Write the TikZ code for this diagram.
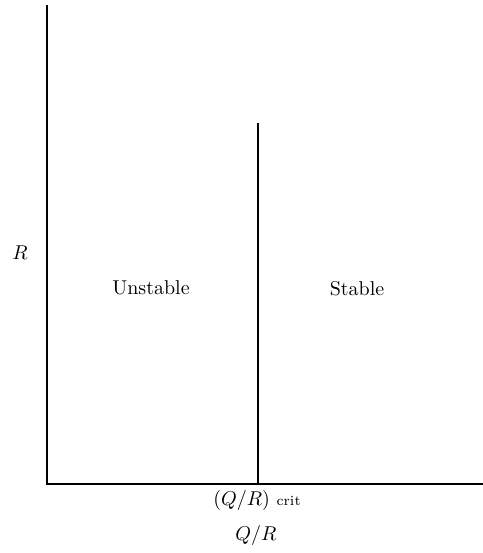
\documentclass[tikz,border=0pt]{standalone}
\begin{document}
\begin{tikzpicture}[
        x=0.5pt, y=-0.5pt,
        every node/.style={font=\normalsize},
        axis/.style={line width=1.1pt},
        region/.style={anchor=center}
    ]
        \useasboundingbox (0,0) rectangle (483,553);

        \coordinate (ytop) at (47,5);
        \coordinate (origin) at (47,484);
        \coordinate (xend) at (483,484);
        \coordinate (critbase) at (258,484);
        \coordinate (crittop) at (258,123);

        \draw[axis] (ytop) -- (origin) -- (xend);
        \draw[axis] (crittop) -- (critbase);

        \node (ylabel) at (20,253) {$R$};
        \node[region] (unstable) at (151,288) {Unstable};
        \node[region] (stable) at (357,289) {Stable};
        \node (critlabel) at (257,500) {$(Q/R)$ {\scriptsize crit}};
        \node (xlabel) at (256,535) {$Q/R$};
    \end{tikzpicture}
\end{document}
